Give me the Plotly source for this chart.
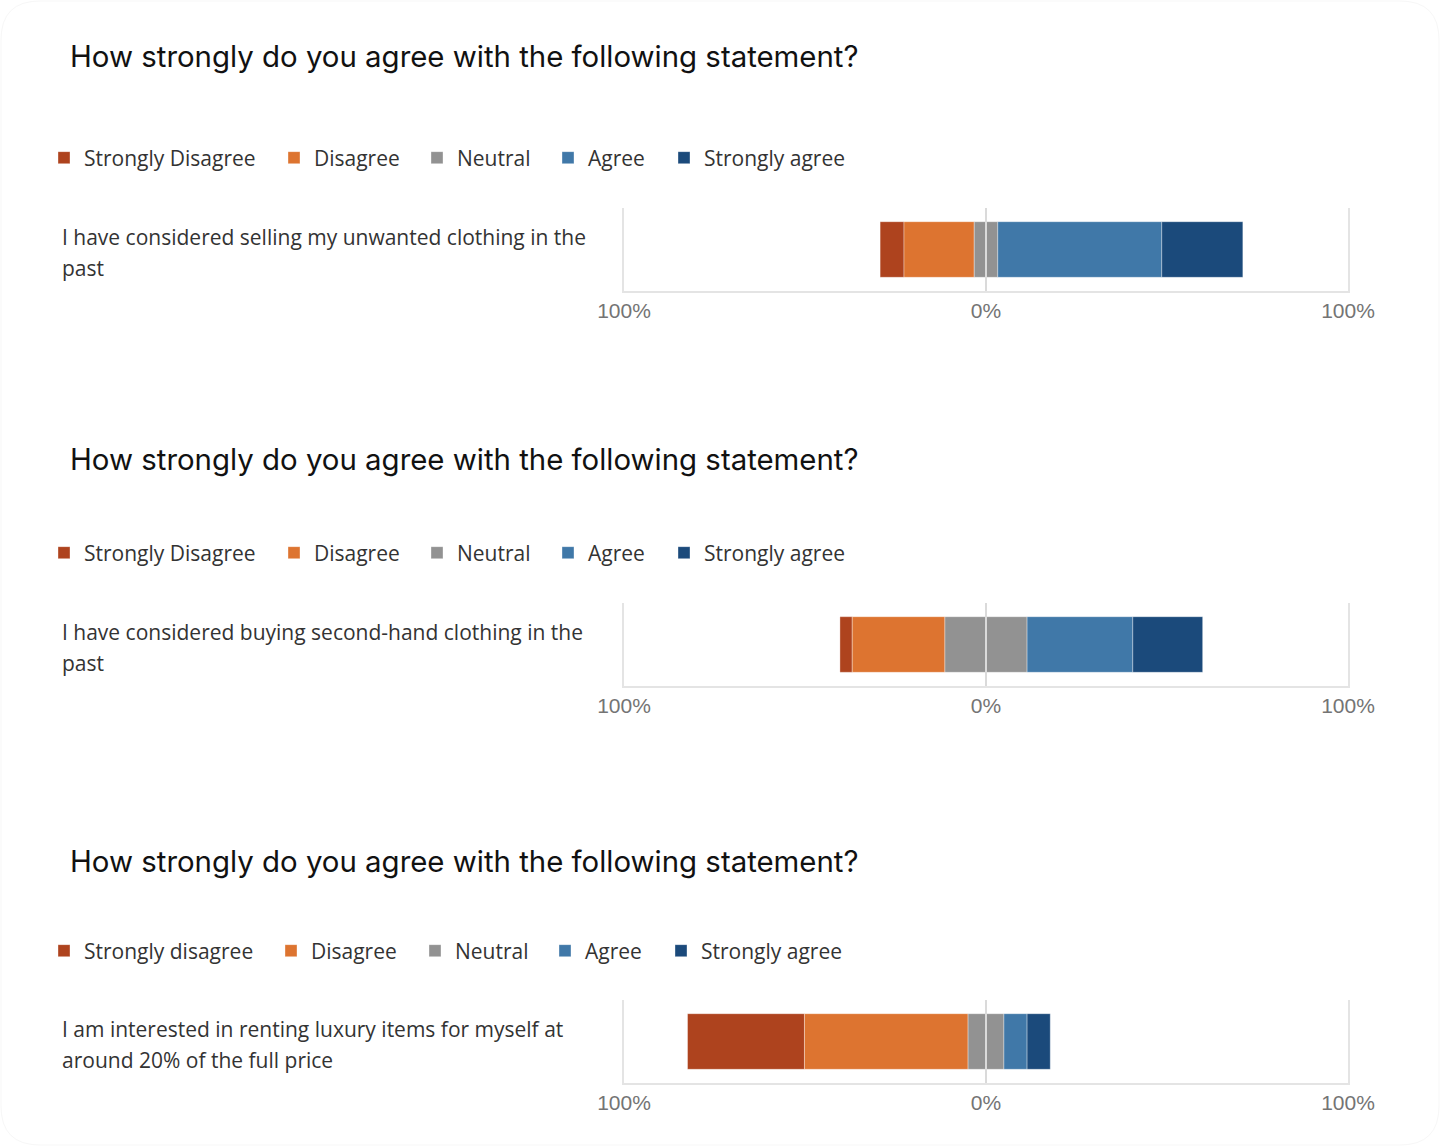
import plotly.graph_objects as go

# ---------------- data ----------------
questions = ["How strongly do you agree with the following statement?"] * 3
statements = [
    "I have considered selling my unwanted clothing in the<br>past",
    "I have considered buying second-hand clothing in the<br>past",
    "I am interested in renting luxury items for myself at<br>around 20% of the full price",
]
legend_labels = [
    ["Strongly Disagree", "Disagree", "Neutral", "Agree", "Strongly agree"],
    ["Strongly Disagree", "Disagree", "Neutral", "Agree", "Strongly agree"],
    ["Strongly disagree", "Disagree", "Neutral", "Agree", "Strongly agree"],
]
strongly_disagree = [6.6, 3.4, 32.3]
disagree = [19.4, 25.6, 45.2]
neutral = [6.5, 22.7, 9.9]
agree = [45.3, 29.2, 6.4]
strongly_agree = [22.4, 19.3, 6.4]
tick_vals = [-100, 0, 100]
tick_text = ["100%", "0%", "100%"]

# ---------------- style / layout ----------------
colors = ["#AE431E", "#DD7430", "#929292", "#4078A8", "#1B4A7B"]
W, H = 1440, 1146
title_y = [57, 459, 861]
legend_y = [158, 553, 951]
legend_text_x = [
    [84, 314, 457, 588, 704],
    [84, 314, 457, 588, 704],
    [84, 311, 455, 585, 701],
]
plot_top = [208, 603, 1000]
plot_bot = [291, 686, 1083]
plot_left, plot_right = 624, 1348
label_x = 60
title_x = 68
grid_color = "#E4E4E4"


def px_x(v):
    return v / W


def px_y(v):
    return 1 - v / H


fig = go.Figure()
layout = dict(
    width=W, height=H, margin=dict(l=0, r=0, t=0, b=0, autoexpand=False),
    paper_bgcolor="white", plot_bgcolor="white",
    barmode="overlay", showlegend=True, annotations=[], shapes=[],
)

leg_count = 0
for i in range(3):
    n = "" if i == 0 else str(i + 1)
    xa, ya = "x" + n, "y" + n
    sd, d, ne, a, sa = (strongly_disagree[i], disagree[i], neutral[i],
                        agree[i], strongly_agree[i])
    lengths = [sd, d, ne, a, sa]
    bases = [-(sd + d + ne / 2), -(d + ne / 2), -ne / 2, ne / 2, ne / 2 + a]
    for k in range(5):
        leg_count += 1
        leg = "legend" if leg_count == 1 else "legend" + str(leg_count)
        fig.add_trace(go.Bar(
            x=[lengths[k]], y=[statements[i]], base=[bases[k]],
            orientation="h", width=0.67,
            marker=dict(color=colors[k],
                        line=dict(color="rgba(255,255,255,0.35)", width=1)),
            name=legend_labels[i][k], legend=leg,
            xaxis=xa, yaxis=ya, hoverinfo="skip",
        ))
        layout[leg] = dict(
            orientation="h", x=px_x(legend_text_x[i][k] - 40),
            y=px_y(legend_y[i]), xanchor="left", yanchor="middle",
            itemwidth=30,
            font=dict(family="Open Sans", size=21, color="#333333"),
            bgcolor="rgba(0,0,0,0)", itemclick=False, itemdoubleclick=False,
        )

    layout["xaxis" + n] = dict(
        domain=[px_x(plot_left), px_x(plot_right)], anchor=ya,
        range=[-100, 100], tickvals=tick_vals, ticktext=tick_text,
        showgrid=False, zeroline=False, showline=True, automargin=False,
        linecolor=grid_color, linewidth=2, ticks="",
        tickfont=dict(family="Liberation Sans, Arial", size=21, color="#747474"),
        fixedrange=True,
    )
    layout["yaxis" + n] = dict(
        domain=[px_y(plot_bot[i]), px_y(plot_top[i])], anchor=xa,
        range=[-0.5, 0.5], showticklabels=False, showgrid=False,
        zeroline=False, showline=True, mirror=True, automargin=False,
        linecolor=grid_color, linewidth=2, ticks="", fixedrange=True,
    )
    layout["shapes"].append(dict(
        type="line", xref=xa, yref=ya + " domain", x0=0, x1=0, y0=0, y1=1,
        line=dict(color="#DADADA", width=2), layer="above",
    ))
    layout["annotations"].append(dict(
        text=questions[i], xref="paper", yref="paper",
        x=px_x(title_x), y=px_y(title_y[i]), xanchor="left", yanchor="middle",
        showarrow=False, font=dict(family="Inter", size=29.4, color="#111111"),
    ))
    lines = statements[i].split("<br>")
    for j, line in enumerate(lines):
        cy = (plot_top[i] + plot_bot[i]) / 2 - 12.5 + 31 * j
        layout["annotations"].append(dict(
            text=line, xref="paper", yref="paper",
            x=px_x(label_x), y=px_y(cy), xanchor="left", yanchor="middle",
            showarrow=False, align="left",
            font=dict(family="Open Sans", size=21, color="#333333"),
        ))

# faint rounded page outline
r = 40
pts = (f"M {px_x(r)},{px_y(1)} L {px_x(W - r)},{px_y(1)} "
       f"Q {px_x(W - 1)},{px_y(1)} {px_x(W - 1)},{px_y(r)} "
       f"L {px_x(W - 1)},{px_y(H - r)} "
       f"Q {px_x(W - 1)},{px_y(H - 1)} {px_x(W - r)},{px_y(H - 1)} "
       f"L {px_x(r)},{px_y(H - 1)} "
       f"Q {px_x(1)},{px_y(H - 1)} {px_x(1)},{px_y(H - r)} "
       f"L {px_x(1)},{px_y(r)} "
       f"Q {px_x(1)},{px_y(1)} {px_x(r)},{px_y(1)} Z")
layout["shapes"].append(dict(type="path", xref="paper", yref="paper", path=pts,
                             line=dict(color="#F7F7F7", width=1), layer="below"))

fig.update_layout(**layout)
fig.write_html("out.html", config={"displayModeBar": False},
               post_script="document.body.style.margin='0';")
